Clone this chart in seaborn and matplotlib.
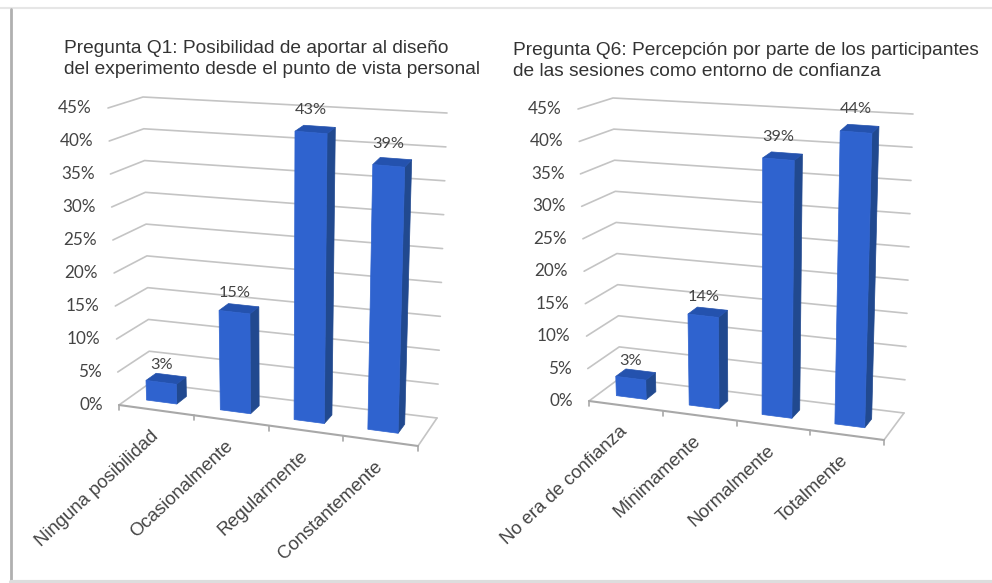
import numpy as np
import pandas as pd
import seaborn as sns
import matplotlib
matplotlib.use("Agg")
import matplotlib.pyplot as plt
from matplotlib.patches import Polygon, Rectangle
from matplotlib.transforms import Transform, Affine2D

W, H = 992, 583

titles_q1 = "Pregunta Q1: Posibilidad de aportar al diseño\ndel experimento desde el punto de vista personal"
titles_q6 = "Pregunta Q6: Percepción por parte de los participantes\nde las sesiones como entorno de confianza"
cats_q1 = ["Ninguna posibilidad", "Ocasionalmente", "Regularmente", "Constantemente"]
cats_q6 = ["No era de confianza", "Mínimamente", "Normalmente", "Totalmente"]
vals_q1 = [3, 15, 43, 39]
vals_q6 = [3, 14, 39, 44]
yticks = [0, 5, 10, 15, 20, 25, 30, 35, 40, 45]

FRONT, SIDE, TOP = "#2f63cf", "#21498f", "#2452ae"
GRID = "#c4c4c4"
TXT = "#444444"
SANS = "Liberation Sans"
NUM = "Lato"
VMAX = 45.0


class Scene:
    """Perspective box: corners given in pixels, floor and top plane."""
    def __init__(self, floor, top):
        self.floor = np.array(floor, float)  # FL, FR, BR, BL
        self.top = np.array(top, float)

    def project(self, u, v, d):
        u, v, d = np.broadcast_arrays(np.asarray(u, float) / 4.0,
                                      np.asarray(v, float) / VMAX,
                                      np.asarray(d, float))
        u, v, d = u.ravel(), v.ravel(), d.ravel()

        def plane(c):
            front = np.outer(c[0], 1 - u) + np.outer(c[1], u)
            back = np.outer(c[3], 1 - u) + np.outer(c[2], u)
            return front * (1 - d) + back * d

        p = plane(self.floor) * (1 - v) + plane(self.top) * v
        return np.column_stack([p[0], H - p[1]])


class BarFace(Transform):
    """Maps seaborn's bar coordinates (category, value) on to a depth plane."""
    input_dims = output_dims = 2
    is_affine = False
    has_inverse = False

    def __init__(self, scene, plane_depth, shift):
        super().__init__()
        self.scene, self.plane_depth, self.shift = scene, plane_depth, shift

    def transform_non_affine(self, xy):
        xy = np.asarray(xy, float)
        return self.scene.project(xy[:, 0] + self.shift, xy[:, 1], np.full(len(xy), self.plane_depth))


def draw(fig, scene, cats, vals, title, title_xy, ylab_dx, xlab_anchor):
    ax = fig.add_axes([0, 0, 1, 1], facecolor="none")
    px = Affine2D()  # pixel coordinates of the figure

    # Walls and floor gridlines
    for t in yticks:
        pts = scene.project([0, 0, 4], [t, t, t], [0, 1, 1])
        ax.plot(pts[:, 0], pts[:, 1], color=GRID, lw=1.2, transform=px, clip_on=False, zorder=1)
        lp = scene.project([0], [t], [0])[0]
        ax.text(lp[0] - ylab_dx, lp[1], f"{t}%", ha="right", va="center", color=TXT,
                fontsize=12.3, family=NUM, transform=px)
    pts = scene.project([4, 4], [0, 0], [0, 1])
    ax.plot(pts[:, 0], pts[:, 1], color=GRID, lw=1.2, transform=px, clip_on=False, zorder=1)
    pts = scene.project([0, 4], [0, 0], [0, 0])
    ax.plot(pts[:, 0], pts[:, 1], color="#a8a8a8", lw=1.5, transform=px, clip_on=False, zorder=1)
    for k in range(5):
        a = scene.project([k], [0], [0])[0]
        ax.plot([a[0], a[0]], [a[1], a[1] - 5], color="#a8a8a8", lw=1.2,
                transform=px, clip_on=False, zorder=1)

    # Bars
    df = pd.DataFrame({"cat": cats, "val": vals})
    width, d0, d1, shift = 0.41, 0.33, 0.66, 0.44
    sns.barplot(data=df, x="cat", y="val", ax=ax, color=FRONT, width=width, saturation=1,
                edgecolor=FRONT, linewidth=0.5)
    bars = [p for p in ax.patches if isinstance(p, Rectangle)]
    for bar, val in zip(bars, vals):
        u0, u1 = bar.get_x() + shift, bar.get_x() + bar.get_width() + shift
        side = scene.project([u1, u1, u1, u1], [0, val, val, 0], [d0, d0, d1, d1])
        top = scene.project([u0, u1, u1, u0], [val, val, val, val], [d0, d0, d1, d1])
        ax.add_patch(Polygon(side, closed=True, fc=SIDE, ec=SIDE, lw=0.5, transform=px, zorder=3, clip_on=False))
        ax.add_patch(Polygon(top, closed=True, fc=TOP, ec=TOP, lw=0.5, transform=px, zorder=3, clip_on=False))
        bar.set_transform(BarFace(scene, d0, shift))
        bar.set_zorder(4)
        bar.set_clip_on(False)
        c = scene.project([(u0 + u1) / 2], [val], [d0])[0]
        ax.text(c[0], c[1] + 17 + val * 0.13, f"{val}%", ha="center", va="center", color=TXT,
                fontsize=11.7, family=NUM, transform=px, zorder=5)

    # Category labels
    for k, lab in enumerate(cats):
        a = scene.project([k + 1], [0], [0])[0]
        ax.text(a[0] + xlab_anchor[0], a[1] + xlab_anchor[1], lab, rotation=43, ha="right", va="top",
                rotation_mode="anchor", color=TXT, fontsize=13.3, family=SANS, transform=px)
    ax.text(title_xy[0], H - title_xy[1], title, ha="left", va="top", color="#333333",
            fontsize=13.8, family=SANS, linespacing=1.3, transform=px)
    ax.set_axis_off()


sns.set_theme(style="white")
fig = plt.figure(figsize=(W / 100, H / 100), dpi=100, facecolor="white")

# Page edges with a soft grey shadow
frame = fig.add_axes([0, 0, 1, 1], facecolor="none")
frame.set_axis_off()
px0 = Affine2D()
frame.plot([0, W], [H - 8, H - 8], color="#e6e6e6", lw=1.5, transform=px0)
frame.plot([11, 11], [H - 9, 2], color="#b0b0b0", lw=2.0, transform=px0)
frame.plot([11, W], [1, 1], color="#dddddd", lw=3, transform=px0)

left = Scene([(119, 405), (418, 446), (437, 418), (150, 383)],
             [(108, 108), (427, 136), (447, 113), (143, 97)])
right = Scene([(589, 401), (884, 440), (904, 413), (620, 378)],
              [(578, 109), (893, 136), (913, 114), (613, 98)])

draw(fig, left, cats_q1, vals_q1, titles_q1, (64, 40), 16, (-44, -12))
draw(fig, right, cats_q6, vals_q6, titles_q6, (513, 42), 16, (-44, -12))

fig.savefig("out.png", dpi=100)
